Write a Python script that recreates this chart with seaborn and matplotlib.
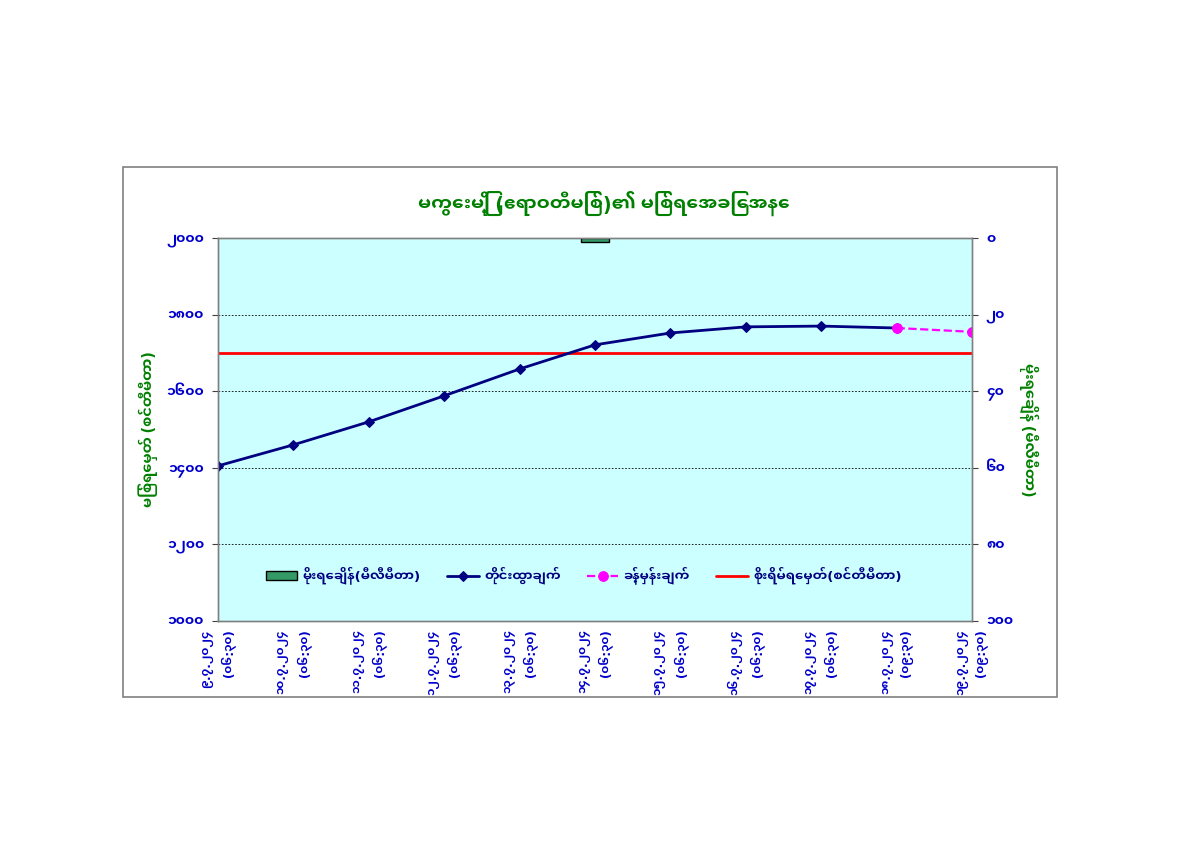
import matplotlib
matplotlib.use("Agg")
import matplotlib.pyplot as plt
import seaborn as sns
import pandas as pd
import numpy as np
from matplotlib.patches import Rectangle, Patch

# reading dates / times (x categories)
dates = ["၉.၇.၂၀၂၄", "၁၀.၇.၂၀၂၄", "၁၁.၇.၂၀၂၄", "၁၂.၇.၂၀၂၄", "၁၃.၇.၂၀၂၄",
         "၁၄.၇.၂၀၂၄", "၁၅.၇.၂၀၂၄", "၁၆.၇.၂၀၂၄", "၁၇.၇.၂၀၂၄", "၁၈.၇.၂၀၂၄",
         "၁၉.၇.၂၀၂၄"]
times = ["(၀၆:၃၀)", "(၀၆:၃၀)", "(၀၆:၃၀)", "(၀၆:၃၀)", "(၀၆:၃၀)", "(၀၆:၃၀)",
         "(၀၆:၃၀)", "(၀၆:၃၀)", "(၀၆:၃၀)", "(၀၉:၃၀)", "(၀၉:၃၀)"]

# water level (cm), forecast (cm), rainfall (mm)
observed = [1405, 1460, 1520, 1588, 1658, 1721, 1752, 1768, 1770, 1765, np.nan]
forecast = [np.nan, np.nan, np.nan, np.nan, np.nan, np.nan, np.nan, np.nan, np.nan, 1765, 1755]
rainfall = [0, 0, 0, 0, 0, 1, 0, 0, 0, 0, 0]
danger_level = 1700

left_ticks = [1000, 1200, 1400, 1600, 1800, 2000]
left_labels = ["၁၀၀၀", "၁၂၀၀", "၁၄၀၀", "၁၆၀၀", "၁၈၀၀", "၂၀၀၀"]
right_ticks = [0, 20, 40, 60, 80, 100]
right_labels = ["၀", "၂၀", "၄၀", "၆၀", "၈၀", "၁၀၀"]

title = "မကွေးမြို့ (ဧရာဝတီမြစ်)၏ မြစ်ရေအခြေအနေ"
left_title = "မြစ်ရေမှတ် (စင်တီမီတာ)"
right_title = "မိုးရေချိန် (မီလီမီတာ)"
legend_labels = ["မိုးရေချိန်(မီလီမီတာ)", "တိုင်းထွာချက်", "ခန့်မှန်းချက်", "စိုးရိမ်ရေမှတ်(စင်တီမီတာ)"]

df = pd.DataFrame({"x": range(len(dates)), "observed": observed,
                   "forecast": forecast, "rain": rainfall})

sns.set_style("white")
plt.rcParams['font.family'] = ['Noto Sans Myanmar UI', 'DejaVu Sans']

blue = "#0000CC"
green = "#008000"
bar_color = "#339966"

fig = plt.figure(figsize=(12, 8.49), dpi=100)
fig.patches.append(Rectangle((123 / 1200, 1 - 697 / 849), (1057 - 123) / 1200, (697 - 167) / 849,
                             transform=fig.transFigure, fill=False, edgecolor="#808080", lw=1.2))
ax = fig.add_axes([218 / 1200, 1 - 621 / 849, (972 - 218) / 1200, (621 - 238) / 849])
ax.set_facecolor("#CCFFFF")
ax2 = ax.twinx()

# rainfall bars (right axis, inverted)
sns.barplot(data=df, x="x", y="rain", native_scale=True, width=0.38, color=bar_color,
            edgecolor="black", linewidth=1, saturation=1, ax=ax2)
for p in ax2.patches:
    if p.get_height() == 0:
        p.set_visible(False)

ax.axhline(danger_level, color="#FF0000", lw=2, label=legend_labels[3], zorder=2)
sns.lineplot(data=df, x="x", y="observed", color="#000080", lw=2, marker="D", markersize=5,
             markeredgecolor="#000080", ax=ax, label=legend_labels[1], zorder=3)
sns.lineplot(data=df, x="x", y="forecast", color="#FF00FF", lw=1.6, linestyle="--", marker="o",
             markersize=7, markeredgecolor="#FF00FF", ax=ax, label=legend_labels[2], zorder=3)

ax.set_xlim(0, len(dates) - 1)
ax.set_ylim(1000, 2000)
ax.set_yticks(left_ticks)
ax.set_yticklabels(left_labels, color=blue, fontsize=10, fontweight="bold")
ax.set_xticks(range(len(dates)))
ax.set_xticklabels([d + "\n" + t for d, t in zip(dates, times)], rotation=90, ha="center",
                   va="top", color=blue, fontsize=8.5, fontweight="bold", linespacing=1.6,
                   multialignment="right")
ax.set_xlabel("")
ax.set_ylabel(left_title, color=green, fontsize=10.5, fontweight="bold", labelpad=6)
ax.yaxis.grid(True, color="black", linestyle=(0, (2, 2)), lw=0.6)

ax2.set_ylim(100, 0)
ax2.set_yticks(right_ticks)
ax2.set_yticklabels(right_labels, color=blue, fontsize=10, fontweight="bold")
ax2.set_ylabel(right_title, color=green, fontsize=10.5, fontweight="bold", rotation=-90, labelpad=18)
ax2.set_xlim(0, len(dates) - 1)

for a in (ax, ax2):
    a.tick_params(direction="out", length=4, width=0.8, color="#404040", pad=6)
    for s in a.spines.values():
        s.set_color("#808080")
        s.set_linewidth(1)
ax.tick_params(axis="x", pad=2)

fig.text(0.503, 1 - 203 / 849, title, ha="center", va="center", color=green,
         fontsize=13.5, fontweight="bold")

h1, l1 = ax.get_legend_handles_labels()
handles = dict(zip(l1, h1))
handles[legend_labels[0]] = Patch(facecolor=bar_color, edgecolor="black", lw=1)
if ax.get_legend():
    ax.get_legend().remove()
ax2.legend([handles[l] for l in legend_labels], legend_labels, ncol=4, loc="center",
           bbox_to_anchor=(0.485, 0.12), frameon=False, handlelength=2.4, columnspacing=2.0,
           handletextpad=0.4, prop={"weight": "bold", "size": 9.5}, labelcolor="#000080")

fig.savefig("out.png", dpi=100)
